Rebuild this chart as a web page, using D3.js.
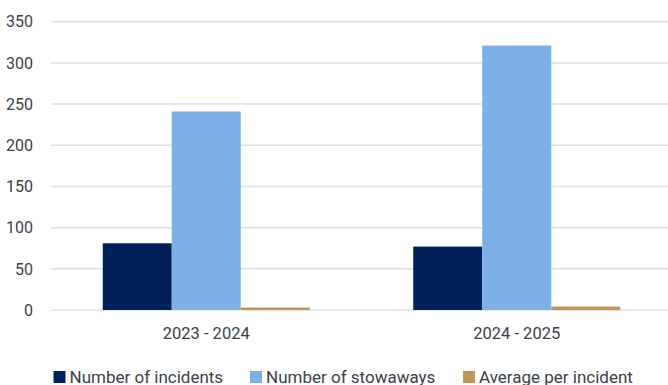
<!DOCTYPE html>
<html>
<head>
<meta charset="utf-8">
<script src="https://cdn.jsdelivr.net/npm/d3@7"></script>
<style>
  body { margin: 0; background: #fff; }
  text { font-family: Roboto, "DejaVu Sans", sans-serif; fill: #3a414a; }
</style>
</head>
<body>
<script>
const WIDTH = 668;
const HEIGHT = 385;

// data
var periods = ["2023 - 2024", "2024 - 2025"];
var seriesNames = ["Number of incidents", "Number of stowaways", "Average per incident"];
var incidents = [81, 77];
var stowaways = [241, 321];
var average = [3.0, 4.2];
var yTicks = [0, 50, 100, 150, 200, 250, 300, 350];
var colors = ["#00205b", "#7eb0e8", "#c09656"];

var svg = d3.select("body").append("svg")
    .attr("width", WIDTH)
    .attr("height", HEIGHT);

var y = d3.scaleLinear().domain([0, 350]).range([310, 21.7]);

var x0 = d3.scaleBand()
    .domain(periods)
    .range([51, 672])
    .paddingInner(1 / 3)
    .paddingOuter(1 / 6);

var x1 = d3.scaleBand()
    .domain(seriesNames)
    .range([0, x0.bandwidth()]);

// gridlines
svg.append("g").selectAll("line")
    .data(yTicks)
    .join("line")
    .attr("x1", 51)
    .attr("x2", WIDTH)
    .attr("y1", d => y(d))
    .attr("y2", d => y(d))
    .attr("stroke", "#e0e0e0")
    .attr("stroke-width", 1.5);

// y tick labels
svg.append("g").selectAll("text")
    .data(yTicks)
    .join("text")
    .attr("x", 33)
    .attr("y", d => y(d))
    .attr("dy", "0.36em")
    .attr("text-anchor", "end")
    .style("font-size", "16px")
    .text(d => d);

// bars
var rows = periods.map((p, i) => ({
    period: p,
    values: [incidents[i], stowaways[i], average[i]]
}));

var groups = svg.append("g").selectAll("g")
    .data(rows)
    .join("g")
    .attr("transform", d => "translate(" + x0(d.period) + ",0)");

groups.selectAll("rect")
    .data(d => d.values.map((v, j) => ({ name: seriesNames[j], value: v, c: colors[j] })))
    .join("rect")
    .attr("x", d => x1(d.name))
    .attr("width", x1.bandwidth())
    .attr("y", d => y(d.value))
    .attr("height", d => y(0) - y(d.value))
    .attr("fill", d => d.c);

// category labels
svg.append("g").selectAll("text")
    .data(periods)
    .join("text")
    .attr("x", d => x0(d) + x0.bandwidth() / 2)
    .attr("y", 339)
    .attr("text-anchor", "middle")
    .style("font-size", "16.5px")
    .text(d => d);

// legend
var legendX = [53.5, 250, 463];
var legend = svg.append("g").selectAll("g")
    .data(seriesNames)
    .join("g")
    .attr("transform", (d, i) => "translate(" + legendX[i] + ",371)");

legend.append("rect")
    .attr("width", 12)
    .attr("height", 12)
    .attr("fill", (d, i) => colors[i]);

legend.append("text")
    .attr("x", 16)
    .attr("y", 11.5)
    .style("font-size", "17px")
    .text(d => d);
</script>
</body>
</html>
